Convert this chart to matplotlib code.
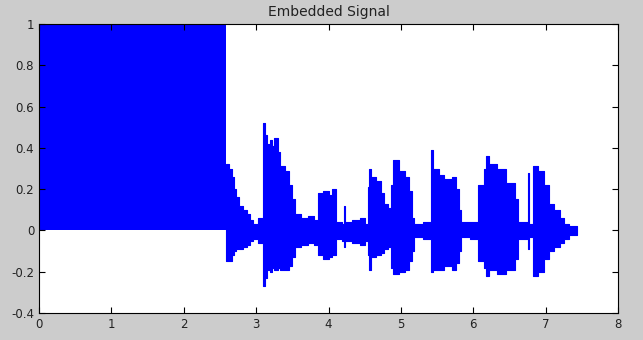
import matplotlib.pyplot as plt

# carrier block at the start (square wave between 0 and 1)
carrier_start = 0.0
carrier_end = 2.58
carrier_low = 0.0
carrier_high = 1.0

# speech envelope: time (s), upper and lower peaks
t_env = [2.58, 2.62, 2.66, 2.69, 2.72, 2.76, 2.82, 2.87, 2.91, 2.96, 3.03, 3.10, 3.12,
         3.15, 3.19, 3.22, 3.25, 3.30, 3.33, 3.40, 3.46, 3.50, 3.54, 3.62, 3.72, 3.80,
         3.86, 3.93, 4.00, 4.05, 4.10, 4.18, 4.21, 4.23, 4.32, 4.43, 4.50, 4.54, 4.56,
         4.59, 4.66, 4.72, 4.76, 4.82, 4.86, 4.89, 4.97, 5.05, 5.11, 5.15, 5.18, 5.30,
         5.41, 5.44, 5.52, 5.60, 5.70, 5.76, 5.80, 5.83, 5.95, 6.06, 6.15, 6.18, 6.22,
         6.33, 6.45, 6.58, 6.62, 6.75, 6.77, 6.82, 6.90, 6.98, 7.04, 7.12, 7.20, 7.26,
         7.32, 7.43]
upper = [0.32, 0.30, 0.26, 0.20, 0.16, 0.12, 0.10, 0.08, 0.05, 0.03, 0.06, 0.52, 0.46,
         0.42, 0.44, 0.41, 0.45, 0.38, 0.31, 0.29, 0.22, 0.15, 0.08, 0.06, 0.07, 0.05,
         0.18, 0.19, 0.17, 0.20, 0.04, 0.03, 0.12, 0.04, 0.05, 0.06, 0.03, 0.21, 0.30,
         0.26, 0.24, 0.18, 0.13, 0.11, 0.22, 0.34, 0.29, 0.26, 0.19, 0.06, 0.03, 0.04,
         0.39, 0.30, 0.27, 0.25, 0.26, 0.20, 0.10, 0.04, 0.04, 0.22, 0.30, 0.36, 0.32,
         0.30, 0.23, 0.15, 0.04, 0.28, 0.03, 0.31, 0.29, 0.22, 0.13, 0.10, 0.06, 0.03,
         0.02, 0.02]
lower = [-0.15, -0.15, -0.12, -0.10, -0.09, -0.09, -0.08, -0.07, -0.05, -0.04, -0.06, -0.27, -0.23,
         -0.19, -0.20, -0.18, -0.19, -0.18, -0.19, -0.19, -0.17, -0.13, -0.08, -0.07, -0.06, -0.07,
         -0.12, -0.14, -0.13, -0.12, -0.04, -0.05, -0.08, -0.05, -0.06, -0.07, -0.05, -0.12, -0.19,
         -0.13, -0.12, -0.11, -0.09, -0.08, -0.18, -0.21, -0.20, -0.19, -0.15, -0.10, -0.03, -0.04,
         -0.20, -0.19, -0.19, -0.17, -0.19, -0.16, -0.10, -0.03, -0.04, -0.15, -0.18, -0.22, -0.19,
         -0.21, -0.19, -0.14, -0.04, -0.09, -0.03, -0.22, -0.20, -0.14, -0.10, -0.08, -0.06, -0.04,
         -0.02, -0.02]

xticks = [0, 1, 2, 3, 4, 5, 6, 7, 8]
yticks = [-0.4, -0.2, 0, 0.2, 0.4, 0.6, 0.8, 1]
ytick_labels = ['-0.4', '-0.2', '0', '0.2', '0.4', '0.6', '0.8', '1']

plt.rcParams['font.family'] = ['DejaVu Sans']

fig = plt.figure(figsize=(6.43, 3.40), dpi=100, facecolor='#cccccc')
ax = fig.add_axes([0.0607, 0.0794, 0.9005, 0.85])
ax.set_facecolor('white')

ax.fill_between([carrier_start, carrier_end], carrier_low, carrier_high, color='#0000ff', lw=0)
ax.fill_between(t_env, lower, upper, step='post', color='#0000ff', lw=0.8, edgecolor='#0000ff')

ax.set_xlim(0, 8)
ax.set_ylim(-0.4, 1)
ax.set_xticks(xticks)
ax.set_yticks(yticks)
ax.set_yticklabels(ytick_labels)
ax.tick_params(direction='in', length=4, width=0.8, top=True, right=True,
               labelsize=8.5, labelcolor='#222222', pad=3.5)
for s in ax.spines.values():
    s.set_linewidth(0.8)
ax.set_title('Embedded Signal', fontsize=10, pad=6, color='#222222')

fig.savefig('out.png', dpi=100, facecolor=fig.get_facecolor())
